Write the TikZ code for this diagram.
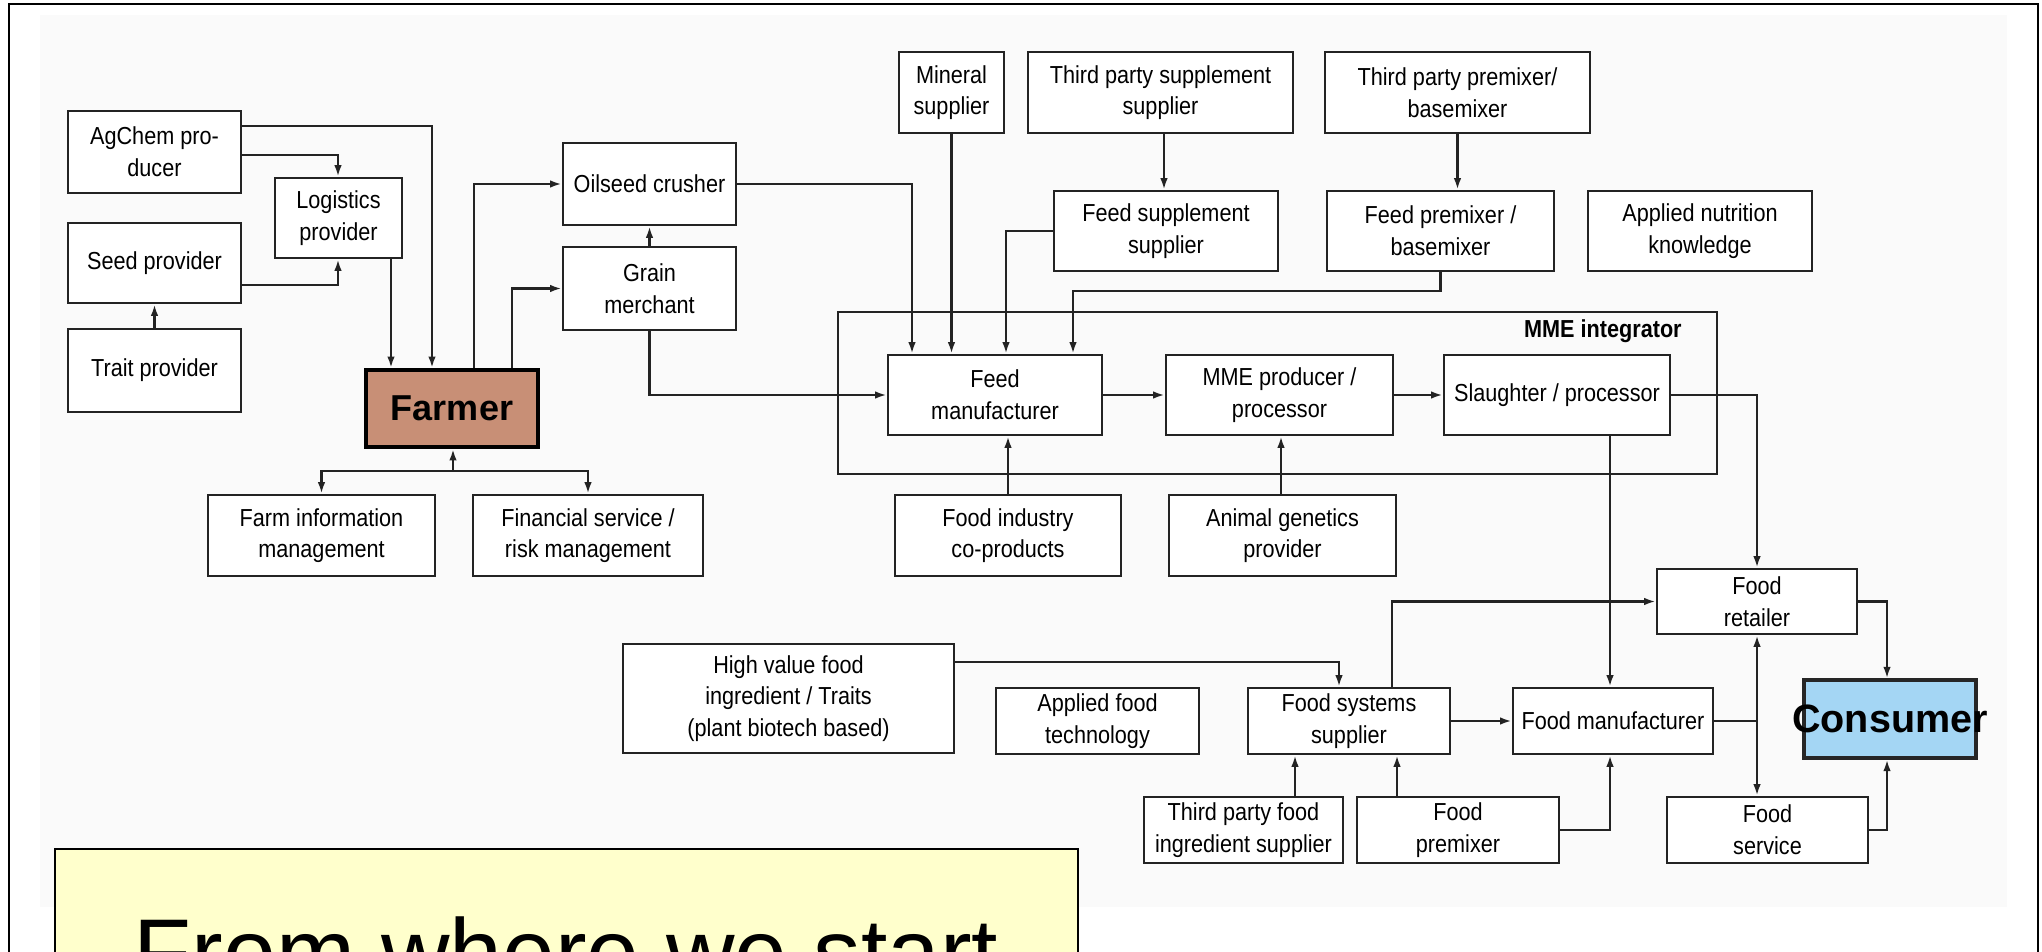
\documentclass[tikz,border=0pt]{standalone}
\usepackage{fontspec}
\setmainfont{Liberation Sans}
\newfontfamily\cond[FakeStretch=0.88]{Liberation Sans}
\usetikzlibrary{arrows.meta}
\definecolor{farmerc}{RGB}{200,143,118}
\definecolor{consc}{RGB}{164,214,244}
\definecolor{yel}{RGB}{255,255,204}
\definecolor{lc}{RGB}{35,35,35}
\newcommand\mybox[7][]{\node[box,#1,minimum width={(#5-#3)*0.02cm},minimum height={(#6-#4)*0.02cm}] (#2) at ({(#3+#5)/2},{(#4+#6)/2}) {#7};}
\tikzset{
  box/.style={draw=lc, line width=1.5pt, fill=white, align=center, inner sep=0pt,
    font=\cond\fontsize{14}{18}\selectfont},
  conn/.style={draw=lc, line width=1.3pt},
  arr/.style={conn, -{Latex[length=0.23cm,width=0.15cm]}},
}
\begin{document}
\begin{tikzpicture}[x=0.02cm,y=-0.02cm]
\useasboundingbox (0,0) rectangle (2042,952);
\clip (0,0) rectangle (2042,952);
\fill[white] (0,0) rectangle (2042,952);
\fill[black!2] (40,15) rectangle (2007,907);

% MME integrator frame
\node[draw=lc, line width=1.5pt, minimum width={(1717-838)*0.02cm}, minimum height={(474-312)*0.02cm}, inner sep=0pt] (mme) at ({(838+1717)/2},{(312+474)/2}) {};
\node[anchor=east, inner sep=0pt, font=\cond\bfseries\fontsize{14}{18}\selectfont] (mmelabel) at (1682,331) {MME integrator};

% boxes
\mybox{agchem}{68}{111}{241}{193}{AgChem pro-\\ducer}
\mybox{logistics}{275}{178}{402}{258}{Logistics\\provider}
\mybox{seed}{68}{223}{241}{303}{Seed provider}
\mybox{trait}{68}{329}{241}{412}{Trait provider}
\mybox[fill=farmerc, line width=2.2pt, draw=black, font=\bfseries\fontsize{20.5}{24}\selectfont]{farmer}{366}{370}{538}{447}{Farmer}
\mybox{farminfo}{208}{495}{435}{576}{Farm information\\management}
\mybox{financial}{473}{495}{703}{576}{Financial service /\\risk management}
\mybox{oilseed}{563}{143}{736}{225}{Oilseed crusher}
\mybox{grain}{563}{247}{736}{330}{Grain\\merchant}
\mybox{mineral}{899}{52}{1004}{133}{Mineral\\supplier}
\mybox{tpsupp}{1028}{52}{1293}{133}{Third party supplement\\supplier}
\mybox{tppremix}{1325}{52}{1590}{133}{Third party premixer/\\basemixer}
\mybox{feedsupp}{1054}{191}{1278}{271}{Feed supplement\\supplier}
\mybox{feedpremix}{1327}{191}{1554}{271}{Feed premixer /\\basemixer}
\mybox{nutrition}{1588}{191}{1812}{271}{Applied nutrition\\knowledge}
\mybox{feedmanuf}{888}{355}{1102}{435}{Feed\\manufacturer}
\mybox{mmeprod}{1166}{355}{1393}{435}{MME producer /\\processor}
\mybox{slaughter}{1444}{355}{1670}{435}{Slaughter / processor}
\mybox{foodind}{895}{495}{1121}{576}{Food industry\\co-products}
\mybox{animalgen}{1169}{495}{1396}{576}{Animal genetics\\provider}
\mybox{retailer}{1657}{569}{1857}{634}{Food\\retailer}
\mybox{highvalue}{623}{644}{954}{753}{High value food\\ingredient / Traits\\(plant biotech based)}
\mybox{appliedfood}{996}{688}{1199}{754}{Applied food\\technology}
\mybox{fss}{1248}{688}{1450}{754}{Food systems\\supplier}
\mybox{foodmanuf}{1513}{688}{1713}{754}{Food manufacturer}
\mybox[fill=consc, draw=black!85, line width=1.8pt]{consumer}{1804}{680}{1976}{758}{}
\node[font=\bfseries\fontsize{22.5}{26}\selectfont, inner sep=0pt] (constext) at (consumer.center) {Consumer};
\mybox{tpfood}{1144}{797}{1343}{863}{Third party food\\ingredient supplier}
\mybox{foodpremixer}{1357}{797}{1559}{863}{Food\\premixer}
\mybox{foodservice}{1667}{797}{1868}{863}{Food\\service}

% connectors: farm side
\draw[arr] (agchem.east |- 0,126) -| (farmer.north -| 432,0);
\draw[arr] (agchem.east |- 0,155) -| (logistics.north -| 338,0);
\draw[arr] (seed.east |- 0,285) -| (logistics.south -| 338,0);
\draw[arr] (trait.north) -- (seed.south);
\draw[arr] (logistics.south -| 391,0) -- (farmer.north -| 391,0);
\draw[arr] (farmer.north -| 474,0) |- (oilseed.west);
\draw[arr] (farmer.north -| 512,0) |- (grain.west);
\draw[arr] (grain.north) -- (oilseed.south);
\coordinate (fj) at (453,471);
\draw[arr] (fj) -- (farmer.south -| fj);
\draw[arr] (fj) -| (farminfo.north);
\draw[arr] (fj) -| (financial.north);

% feed side
\draw[arr] (grain.south) |- (feedmanuf.west);
\draw[arr] (oilseed.east) -| (feedmanuf.north -| 912,0);
\draw[arr] (mineral.south) -- (feedmanuf.north -| mineral.south);
\draw[arr] (feedsupp.west) -| (feedmanuf.north -| 1006,0);
\draw[arr] (tpsupp.south -| 1164,0) -- (feedsupp.north -| 1164,0);
\draw[arr] (tppremix.south) -- (feedpremix.north -| tppremix.south);
\draw[arr] (feedpremix.south) -- ++(0,19) -| (feedmanuf.north -| 1073,0);
\draw[arr] (feedmanuf.east) -- (mmeprod.west);
\draw[arr] (mmeprod.east) -- (slaughter.west);
\draw[arr] (foodind.north) -- (feedmanuf.south -| foodind.north);
\draw[arr] (animalgen.north -| 1281,0) -- (mmeprod.south -| 1281,0);

% food side
\draw[arr] (slaughter.east) -| (retailer.north);
\draw[arr] (slaughter.south -| 1610,0) -- (foodmanuf.north -| 1610,0);
\draw[arr] (highvalue.east |- 0,662) -| (fss.north -| 1339,0);
\draw[arr] (fss.north -| 1392,0) |- (retailer.west);
\draw[arr] (fss.east) -- (foodmanuf.west);
\coordinate (rj) at (retailer.south |- foodmanuf.east);
\draw[conn] (foodmanuf.east) -- (rj);
\draw[arr] (rj) -- (retailer.south);
\draw[arr] (rj) -- (foodservice.north -| rj);
\draw[arr] (retailer.east) -| (consumer.north -| 1887,0);
\draw[arr] (foodservice.east) -| (consumer.south -| 1887,0);
\draw[arr] (tpfood.north -| 1295,0) -- (fss.south -| 1295,0);
\draw[arr] (foodpremixer.north -| 1397,0) -- (fss.south -| 1397,0);
\draw[arr] (foodpremixer.east) -| (foodmanuf.south -| 1610,0);

% outer frame and caption box
\draw[line width=1.6pt] (9,980) -- (9,4) -- (2038,4) -- (2038,980);
\node[draw=black, fill=yel, line width=1.5pt, minimum width={(1078-55)*0.02cm}, minimum height={(1100-849)*0.02cm}, inner sep=0pt] (startbox) at ({(55+1078)/2},{(849+1100)/2}) {};
\node[anchor=base, inner sep=0pt, font=\fontsize{54}{60}\selectfont] (starttext) at (566,985) {From where we start};
\end{tikzpicture}
\end{document}
